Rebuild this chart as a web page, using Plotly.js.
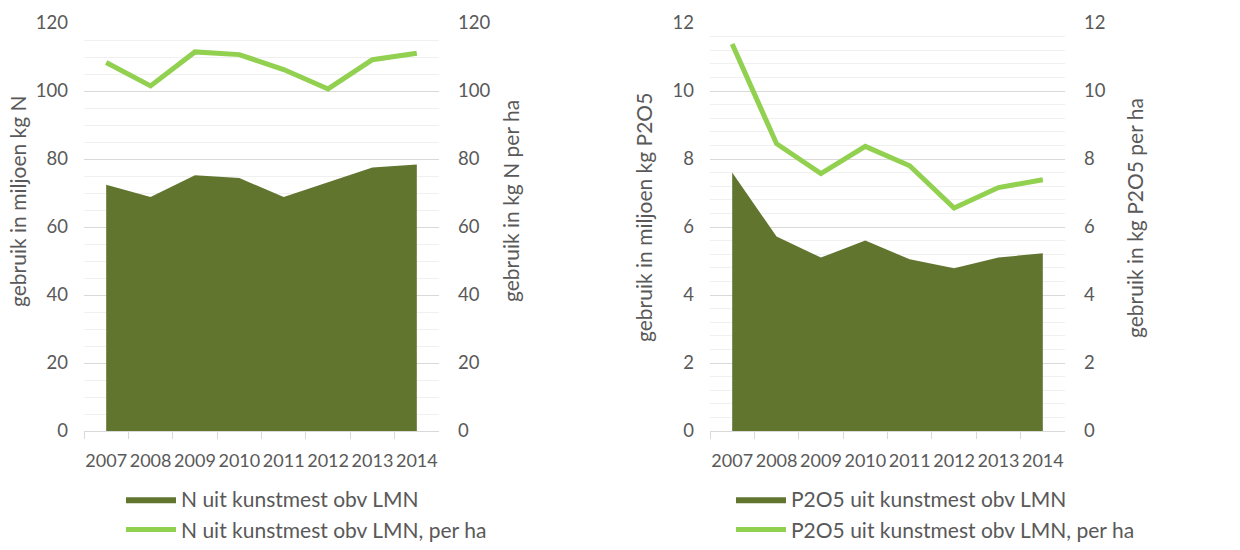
<!DOCTYPE html>
<html>
<head>
<meta charset="utf-8">
<script src="https://cdn.plot.ly/plotly-3.0.1.min.js"></script>
<style>html,body{margin:0;padding:0;background:#fff;}#chart{width:1240px;height:550px;}</style>
</head>
<body>
<div id="chart"></div>
<script>
// Data
const years = ['2007', '2008', '2009', '2010', '2011', '2012', '2013', '2014'];
const nTotal = [72.4, 68.8, 75.2, 74.4, 68.8, 73.1, 77.5, 78.4];      // miljoen kg N
const nPerHa = [108.4, 101.5, 111.5, 110.7, 106.3, 100.6, 109.2, 111.1]; // kg N per ha
const pTotal = [7.60, 5.72, 5.10, 5.60, 5.05, 4.79, 5.10, 5.23];     // miljoen kg P2O5
const pPerHa = [11.38, 8.45, 7.57, 8.37, 7.80, 6.56, 7.16, 7.39];    // kg P2O5 per ha

const nNames = ['N uit kunstmest obv LMN', 'N uit kunstmest obv LMN, per ha'];
const pNames = ['P2O5 uit kunstmest obv LMN', 'P2O5 uit kunstmest obv LMN, per ha'];
const yTitles = ['gebruik in miljoen kg N', 'gebruik in kg N per ha', 'gebruik in miljoen kg P2O5', 'gebruik in kg P2O5 per ha'];

const AREA = '#61752F';
const LINE = '#92D050';
const TXT = '#595959';
const FONT = 'Lato, "Open Sans", sans-serif';
const W = 1240, H = 550;

const traces = [
  {x: years, y: nTotal, name: nNames[0], type: 'scatter', mode: 'lines', fill: 'tozeroy',
   fillcolor: AREA, line: {width: 0, color: AREA}, xaxis: 'x', yaxis: 'y', legend: 'legend', legendgroup: 'a'},
  {x: years, y: nPerHa, name: nNames[1], type: 'scatter', mode: 'lines',
   line: {width: 5, color: LINE}, xaxis: 'x', yaxis: 'y2', legend: 'legend', legendgroup: 'b'},
  {x: years, y: pTotal, name: pNames[0], type: 'scatter', mode: 'lines', fill: 'tozeroy',
   fillcolor: AREA, line: {width: 0, color: AREA}, xaxis: 'x2', yaxis: 'y3', legend: 'legend2', legendgroup: 'c'},
  {x: years, y: pPerHa, name: pNames[1], type: 'scatter', mode: 'lines',
   line: {width: 5, color: LINE}, xaxis: 'x2', yaxis: 'y4', legend: 'legend2', legendgroup: 'd'}
];

const yDom = [1 - 431 / H, 1 - 23 / H];

function xAxis(d0, d1) {
  return {
    domain: [d0 / W, d1 / W], type: 'category', range: [-0.5, 7.5],
    tickson: 'boundaries', ticks: 'outside', ticklen: 7, tickcolor: '#d9d9d9',
    showline: true, linecolor: '#d9d9d9', linewidth: 1, showgrid: false, zeroline: false,
    tickangle: 0, ticklabelstandoff: 13, automargin: false,
    tickfont: {family: FONT, size: 18, color: TXT}, fixedrange: true
  };
}
function yAxis(anchor, max, major, minor, side, overlay, grid) {
  const a = {
    domain: yDom, anchor: anchor, range: [0, max], dtick: major, tick0: 0,
    side: side, showline: false, zeroline: false, showgrid: grid,
    gridcolor: '#d9d9d9', gridwidth: 1, automargin: false,
    ticks: '', ticklabelstandoff: side === 'left' ? 15 : 18,
    tickfont: {family: FONT, size: 18.5, color: TXT}, fixedrange: true
  };
  if (grid) a.minor = {dtick: minor, tick0: 0, showgrid: true, gridcolor: '#f0f0f0', gridwidth: 1};
  if (overlay) a.overlaying = overlay;
  return a;
}

function title(text, px, py) {
  return {text: text, xref: 'paper', yref: 'paper', x: px / W, y: 1 - py / H,
    xanchor: 'center', yanchor: 'middle', textangle: -90, showarrow: false,
    font: {family: FONT, size: 21, color: TXT}};
}

const legendBase = {orientation: 'v', xanchor: 'left', yanchor: 'bottom', bgcolor: 'rgba(0,0,0,0)',
  font: {family: FONT, size: 21, color: TXT}, itemwidth: 50, tracegroupgap: 6, traceorder: 'normal'};

const layout = {
  width: W, height: H, margin: {l: 0, r: 0, t: 0, b: 0, autoexpand: false},
  paper_bgcolor: '#fff', plot_bgcolor: '#fff', showlegend: true,
  xaxis: xAxis(84, 439),
  yaxis: yAxis('x', 120, 20, 5, 'left', null, true),
  yaxis2: yAxis('x', 120, 20, 5, 'right', 'y', false),
  xaxis2: xAxis(710, 1065),
  yaxis3: yAxis('x2', 12, 2, 0.4, 'left', null, true),
  yaxis4: yAxis('x2', 12, 2, 0.4, 'right', 'y3', false),
  legend: Object.assign({}, legendBase, {x: 121 / W, y: 0}),
  legend2: Object.assign({}, legendBase, {x: 731 / W, y: 0}),
  annotations: [
    title(yTitles[0], 17, 201),
    title(yTitles[1], 510, 201),
    title(yTitles[2], 643, 218),
    title(yTitles[3], 1134, 218)
  ]
};

Plotly.newPlot('chart', traces, layout, {displayModeBar: false, staticPlot: true});
</script>
</body>
</html>
